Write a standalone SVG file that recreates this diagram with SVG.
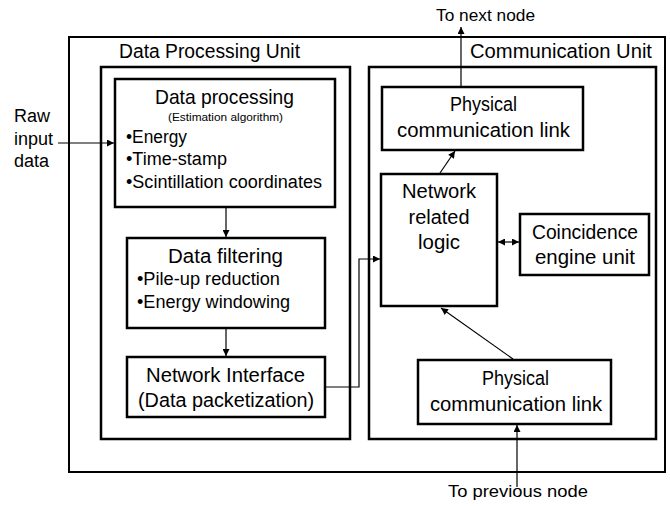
<svg xmlns="http://www.w3.org/2000/svg" width="670" height="506" viewBox="0 0 670 506">
<defs>
<marker id="ah" viewBox="0 0 10 10" refX="10" refY="5" markerWidth="8" markerHeight="7" markerUnits="userSpaceOnUse" orient="auto-start-reverse">
<path d="M0,0 L10,5 L0,10 z" fill="#000"/>
</marker>
<style>
text{font-family:"Liberation Sans",Arial,sans-serif;fill:#000}
.box{fill:#fff;stroke:#000;stroke-width:2.5}
.cont{fill:none;stroke:#000;stroke-width:2.5}
.outer{fill:none;stroke:#000;stroke-width:2}
.t{font-size:20px;text-anchor:middle}
.b{font-size:18px}
.l{font-size:17px}
.r{font-size:18px}
.c{stroke:#000;stroke-width:1.2;fill:none}
</style>
</defs>
<rect width="670" height="506" fill="#fff"/>
<g id="outer"><rect class="outer" x="69" y="37" width="596" height="435"/></g>
<g id="dpu">
<rect class="cont" x="101" y="67" width="249" height="372"/>
<text class="t" x="209.5" y="58" textLength="181" lengthAdjust="spacingAndGlyphs">Data Processing Unit</text>
</g>
<g id="cu">
<rect class="cont" x="369" y="67" width="287" height="372"/>
<text class="t" x="561" y="58" textLength="182" lengthAdjust="spacingAndGlyphs">Communication Unit</text>
</g>
<g id="data-processing">
<rect class="box" x="115" y="79" width="220" height="128"/>
<text class="t" x="224.5" y="104" style="font-size:21px" textLength="139" lengthAdjust="spacingAndGlyphs">Data processing</text>
<text x="225.5" y="121" style="font-size:11.5px;text-anchor:middle" textLength="115" lengthAdjust="spacingAndGlyphs">(Estimation algorithm)</text>
<text class="b" x="126" y="143" textLength="61" lengthAdjust="spacingAndGlyphs">•Energy</text>
<text class="b" x="126" y="165" textLength="101" lengthAdjust="spacingAndGlyphs">•Time-stamp</text>
<text class="b" x="126" y="188" textLength="196" lengthAdjust="spacingAndGlyphs">•Scintillation coordinates</text>
</g>
<g id="data-filtering">
<rect class="box" x="127" y="238" width="198" height="90"/>
<text class="t" x="225.5" y="263" textLength="115" lengthAdjust="spacingAndGlyphs">Data filtering</text>
<text class="b" x="137" y="285" textLength="143" lengthAdjust="spacingAndGlyphs">•Pile-up reduction</text>
<text class="b" x="137" y="308" textLength="153" lengthAdjust="spacingAndGlyphs">•Energy windowing</text>
</g>
<g id="network-interface">
<rect class="box" x="127" y="357" width="198" height="60"/>
<text class="t" x="225.5" y="382" textLength="159" lengthAdjust="spacingAndGlyphs">Network Interface</text>
<text class="t" x="226" y="407" textLength="176" lengthAdjust="spacingAndGlyphs">(Data packetization)</text>
</g>
<g id="phys-link-top">
<rect class="box" x="382" y="87" width="201" height="63"/>
<text class="t" x="483.5" y="111" textLength="67" lengthAdjust="spacingAndGlyphs">Physical</text>
<text class="t" x="483.5" y="137" textLength="173" lengthAdjust="spacingAndGlyphs">communication link</text>
</g>
<g id="network-logic">
<rect class="box" x="381" y="174" width="116" height="132"/>
<text class="t" x="439" y="198" textLength="74" lengthAdjust="spacingAndGlyphs">Network</text>
<text class="t" x="439" y="224" textLength="61" lengthAdjust="spacingAndGlyphs">related</text>
<text class="t" x="439" y="249" textLength="42" lengthAdjust="spacingAndGlyphs">logic</text>
</g>
<g id="coincidence">
<rect class="box" x="520" y="214" width="129" height="61"/>
<text class="t" x="585" y="239" textLength="106" lengthAdjust="spacingAndGlyphs">Coincidence</text>
<text class="t" x="585" y="264" textLength="100" lengthAdjust="spacingAndGlyphs">engine unit</text>
</g>
<g id="phys-link-bottom">
<rect class="box" x="418" y="360" width="193" height="64"/>
<text class="t" x="515.5" y="385" textLength="67" lengthAdjust="spacingAndGlyphs">Physical</text>
<text class="t" x="516" y="411" textLength="172" lengthAdjust="spacingAndGlyphs">communication link</text>
</g>
<g id="labels">
<text class="r" x="14" y="122">Raw</text>
<text class="r" x="14" y="145">input</text>
<text class="r" x="14" y="167">data</text>
<text class="l" x="485.5" y="21" text-anchor="middle" textLength="99" lengthAdjust="spacingAndGlyphs">To next node</text>
<text class="l" x="518" y="497" text-anchor="middle" textLength="140" lengthAdjust="spacingAndGlyphs">To previous node</text>
</g>
<g id="connectors">
<line class="c" x1="58" y1="143" x2="114" y2="143" marker-end="url(#ah)"/>
<line class="c" x1="226" y1="208" x2="226" y2="237" marker-end="url(#ah)"/>
<line class="c" x1="226" y1="329" x2="226" y2="356" marker-end="url(#ah)"/>
<polyline class="c" points="326,387 359,387 359,259 380,259" marker-end="url(#ah)"/>
<line class="c" x1="440" y1="173" x2="455" y2="151" marker-end="url(#ah)"/>
<line class="c" x1="461" y1="86" x2="461" y2="27" marker-end="url(#ah)"/>
<line class="c" x1="498" y1="242" x2="519" y2="242" marker-start="url(#ah)" marker-end="url(#ah)"/>
<line class="c" x1="513" y1="359" x2="441" y2="308" marker-end="url(#ah)"/>
<line class="c" x1="517" y1="487" x2="517" y2="425" marker-end="url(#ah)"/>
</g>
</svg>
